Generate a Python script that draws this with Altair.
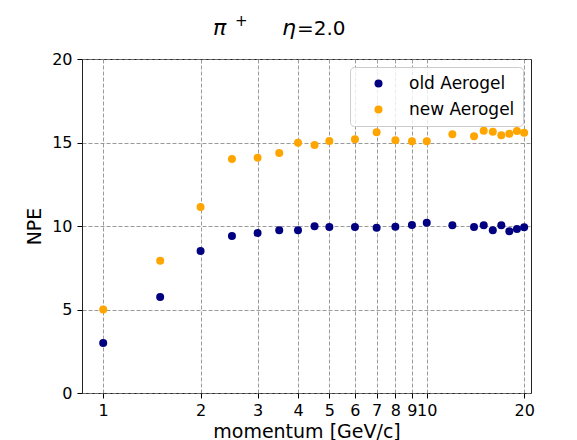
import altair as alt
import pandas as pd

momentum = [1, 1.5, 2, 2.5, 3, 3.5, 4, 4.5, 5, 6, 7, 8, 9, 10, 12, 14, 15, 16, 17, 18, 19, 20]
old_npe = [3.0, 5.75, 8.5, 9.4, 9.58, 9.74, 9.74, 9.98, 9.94, 9.94, 9.9, 9.96, 10.06, 10.2,
           10.04, 9.94, 10.04, 9.74, 10.04, 9.68, 9.82, 9.92]
new_npe = [5.0, 7.92, 11.14, 14.01, 14.09, 14.37, 14.99, 14.85, 15.09, 15.19, 15.61, 15.13,
           15.07, 15.07, 15.49, 15.37, 15.71, 15.65, 15.43, 15.53, 15.69, 15.59]
series_names = ["old Aerogel", "new Aerogel"]
series_colors = ["#000080", "#ffa500"]
x_ticks = [1, 2, 3, 4, 5, 6, 7, 8, 9, 10, 20]
y_ticks = [0, 5, 10, 15, 20]

rows = []
for name, vals in zip(series_names, [old_npe, new_npe]):
    for m, v in zip(momentum, vals):
        rows.append({"momentum": m, "NPE": v, "series": name})
df = pd.DataFrame(rows)

FONT = "DejaVu Sans"
W, H = 449, 334

points = alt.Chart(df).mark_circle(size=64, opacity=1).encode(
    x=alt.X("momentum:Q",
            scale=alt.Scale(type="log", domain=[0.86, 21.0], nice=False),
            axis=alt.Axis(values=x_ticks, format="~g", title="momentum [GeV/c]",
                          labelOverlap=False, labelFlush=False, labelBound=False,
                          titlePadding=4)),
    y=alt.Y("NPE:Q",
            scale=alt.Scale(domain=[0, 20], nice=False),
            axis=alt.Axis(values=y_ticks, title="NPE", titlePadding=7)),
    color=alt.Color("series:N",
                    scale=alt.Scale(domain=series_names, range=series_colors),
                    legend=alt.Legend(title=None, orient="none", legendX=268, legendY=8,
                                      fillColor="rgba(255,255,255,0.8)", strokeColor="#cccccc",
                                      cornerRadius=4, padding=8, symbolOffset=12,
                                      labelOffset=22, rowPadding=8, symbolSize=64,
                                      symbolType="circle", symbolOpacity=1,
                                      labelFontSize=17, labelFont=FONT, labelColor="black")),
)

title_parts = [
    ("π", "italic", 22, 131, -24),
    ("+", "normal", 15, 153, -33),
    ("η", "italic", 22, 200, -24),
    ("=2.0", "normal", 20, 215, -24),
]
layers = [points]
for txt, style, fs, px, py in title_parts:
    layers.append(
        alt.Chart(pd.DataFrame({"t": [txt]})).mark_text(
            font=FONT, fontSize=fs, fontStyle=style, align="left", baseline="alphabetic",
            color="black"
        ).encode(text="t:N", x=alt.value(px), y=alt.value(py))
    )

chart = alt.layer(*layers).properties(
    width=W, height=H,
    autosize=alt.AutoSizeParams(type="none"),
    padding={"left": 74, "top": 51, "right": 30, "bottom": 60},
).configure_view(
    stroke="#222222", strokeWidth=1
).configure_axis(
    domain=False, grid=True, gridColor="#808080", gridDash=[4, 2], gridWidth=0.8,
    tickColor="black", tickSize=5, tickWidth=1, labelPadding=4,
    labelFont=FONT, labelFontSize=16, labelColor="black",
    titleFont=FONT, titleFontSize=19, titleColor="black", titleFontWeight="normal",
).configure_axisY(labelPadding=5)

chart.save("out.html", embed_options={"renderer": "svg", "actions": False})
